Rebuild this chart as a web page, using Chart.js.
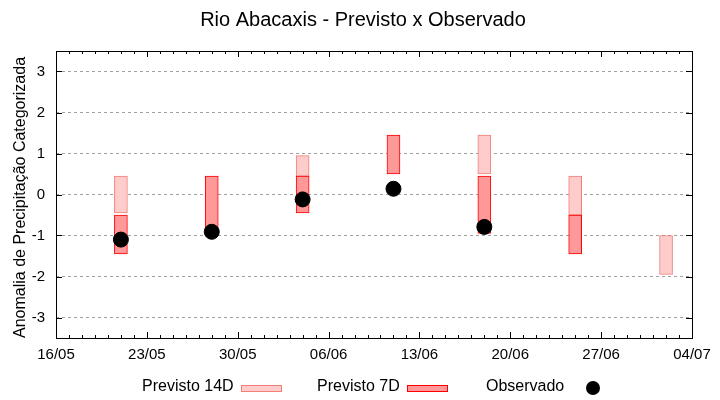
<!DOCTYPE html>
<html>
<head>
<meta charset="utf-8">
<script src="https://cdn.jsdelivr.net/npm/chart.js@4.4.1/dist/chart.umd.min.js"></script>
<style>
  body { margin: 0; background: #fff; }
  canvas { display: block; }
</style>
</head>
<body>
<canvas id="chart" width="720" height="400"></canvas>
<script>
// datas e valores (anomalia categorizada)
var startDate = '16/05';
var endDate = '04/07';
var dates = ['21/05', '28/05', '04/06', '11/06', '18/06', '25/06', '02/07'];
var prev14Low  = [-0.45, null, 0.45, null, 0.5, -0.5, -1.95];
var prev14High = [0.45, null, 0.95, null, 1.45, 0.45, -1.0];
var prev7Low   = [-1.45, -0.95, -0.45, 0.5, -0.95, -1.45, null];
var prev7High  = [-0.5, 0.45, 0.45, 1.45, 0.45, -0.5, null];
var observed   = [-1.1, -0.91, -0.12, 0.14, -0.79, null, null];
var xTickLabels = ['16/05', '23/05', '30/05', '06/06', '13/06', '20/06', '27/06', '04/07'];
var yTickValues = [-3, -2, -1, 0, 1, 2, 3];

function dayOf(s) {
  var p = s.split('/');
  return Date.UTC(2023, +p[1] - 1, +p[0]);
}
function dayIndex(s) {
  return Math.round((dayOf(s) - dayOf(startDate)) / 86400000);
}
function floating(lo, hi) {
  var out = [];
  for (var i = 0; i < dates.length; i++) {
    if (lo[i] !== null) out.push({ x: dayIndex(dates[i]), y: [lo[i], hi[i]] });
  }
  return out;
}
function points(vals) {
  var out = [];
  for (var i = 0; i < dates.length; i++) {
    if (vals[i] !== null) out.push({ x: dayIndex(dates[i]), y: vals[i] });
  }
  return out;
}

// moldura, ticks internos, rotulos do eixo x, titulo e legenda no estilo gnuplot
var frame = {
  id: 'frame',
  afterDatasetsDraw: function (chart) {
    var ctx = chart.ctx, a = chart.chartArea, xs = chart.scales.x, ys = chart.scales.y;
    ctx.save();
    ctx.strokeStyle = '#000';
    ctx.lineWidth = 1;
    ctx.beginPath();
    for (var d = xs.min; d <= xs.max; d++) {
      var px = Math.round(xs.getPixelForValue(d)) + 0.5;
      var len = (d % 7 === 0) ? 6 : 3;
      ctx.moveTo(px, a.bottom); ctx.lineTo(px, a.bottom - len);
      ctx.moveTo(px, a.top); ctx.lineTo(px, a.top + len);
    }
    yTickValues.forEach(function (v) {
      var py = Math.round(ys.getPixelForValue(v)) + 0.5;
      ctx.moveTo(a.left, py); ctx.lineTo(a.left + 6, py);
      ctx.moveTo(a.right, py); ctx.lineTo(a.right - 6, py);
    });
    ctx.stroke();
    ctx.strokeRect(Math.round(a.left) + 0.5, Math.round(a.top) + 0.5,
                   Math.round(a.right - a.left), Math.round(a.bottom - a.top));
    ctx.restore();
  },
  afterDraw: function (chart) {
    var ctx = chart.ctx, a = chart.chartArea, xs = chart.scales.x;
    ctx.save();
    ctx.fillStyle = '#000';

    // rotulos do eixo x
    ctx.font = '15px "Liberation Sans", Arial, sans-serif';
    ctx.textAlign = 'center';
    ctx.textBaseline = 'alphabetic';
    xTickLabels.forEach(function (l) {
      ctx.fillText(l, xs.getPixelForValue(dayIndex(l)), a.bottom + 21);
    });

    ctx.textBaseline = 'middle';
    ctx.font = '20px "Liberation Sans", Arial, sans-serif';
    ctx.fillText('Rio Abacaxis - Previsto x Observado', 363, 20);

    ctx.font = '16px "Liberation Sans", Arial, sans-serif';
    ctx.textAlign = 'left';
    var ds = chart.data.datasets;
    var entries = [
      { d: ds[2], tx: 142, sx: 241 },
      { d: ds[1], tx: 317, sx: 407 },
      { d: ds[0], tx: 486, sx: 593 }
    ];
    entries.forEach(function (e) {
      ctx.fillStyle = '#000';
      ctx.fillText(e.d.label, e.tx, 387);
      if (e.d.type === 'scatter') {
        ctx.beginPath();
        ctx.arc(e.sx, 388, 7, 0, Math.PI * 2);
        ctx.fillStyle = e.d.backgroundColor;
        ctx.fill();
      } else {
        ctx.fillStyle = e.d.backgroundColor;
        ctx.fillRect(e.sx, 385, 40, 7);
        ctx.strokeStyle = e.d.borderColor;
        ctx.lineWidth = 1;
        ctx.strokeRect(e.sx + 0.5, 385.5, 40, 6);
      }
    });
    ctx.restore();
  }
};

var ctx = document.getElementById('chart').getContext('2d');
new Chart(ctx, {
  type: 'bar',
  data: {
    datasets: [
      {
        type: 'scatter',
        label: 'Observado',
        data: points(observed),
        backgroundColor: '#000',
        borderColor: '#000',
        pointRadius: 7.5,
        pointHoverRadius: 7.5,
        order: 0
      },
      {
        label: 'Previsto 7D',
        data: floating(prev7Low, prev7High),
        backgroundColor: '#ff9999',
        borderColor: '#ff0000',
        borderWidth: 1,
        borderSkipped: false,
        barThickness: 13,
        grouped: false,
        order: 1
      },
      {
        label: 'Previsto 14D',
        data: floating(prev14Low, prev14High),
        backgroundColor: '#ffcccc',
        borderColor: '#f08078',
        borderWidth: 1,
        borderSkipped: false,
        barThickness: 13,
        grouped: false,
        order: 2
      }
    ]
  },
  options: {
    responsive: false,
    animation: false,
    events: [],
    layout: { padding: { top: 51, right: 28, left: 0, bottom: 0 } },
    plugins: {
      legend: { display: false },
      title: { display: false },
      tooltip: { enabled: false }
    },
    scales: {
      x: {
        type: 'linear',
        offset: false,
        min: 0,
        max: dayIndex(endDate),
        afterBuildTicks: function (scale) {
          scale.ticks = xTickLabels.map(function (l) { return { value: dayIndex(l) }; });
        },
        afterFit: function (scale) { scale.height = 62; },
        grid: { display: false, drawTicks: false },
        border: { display: false },
        ticks: { display: false }
      },
      y: {
        min: -3.5,
        max: 3.5,
        afterBuildTicks: function (scale) {
          scale.ticks = yTickValues.map(function (v) { return { value: v }; });
        },
        afterFit: function (scale) { scale.width = 56; },
        grid: { color: '#a0a0a0', drawTicks: false, lineWidth: 1 },
        border: { display: false, dash: [3, 3] },
        ticks: {
          padding: 11,
          color: '#000',
          font: { family: '"Liberation Sans", Arial', size: 15 }
        },
        title: {
          display: true,
          text: 'Anomalia de Precipitação Categorizada',
          color: '#000',
          align: 'start',
          padding: { top: 11, bottom: 0 },
          font: { family: '"Liberation Sans", Arial', size: 16 }
        }
      }
    }
  },
  plugins: [frame]
});
</script>
</body>
</html>
